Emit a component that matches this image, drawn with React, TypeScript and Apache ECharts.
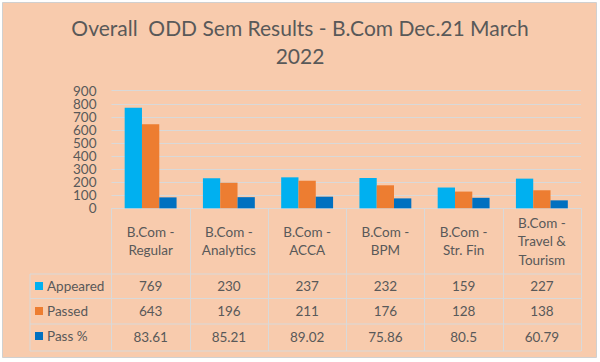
import React, { useEffect, useRef } from "react";
import * as echarts from "echarts";

const categories = [
  "B.Com -\nRegular",
  "B.Com -\nAnalytics",
  "B.Com -\nACCA",
  "B.Com -\nBPM",
  "B.Com -\nStr. Fin",
  "B.Com -\nTravel &\nTourism",
];
const appeared = [769, 230, 237, 232, 159, 227];
const passed = [643, 196, 211, 176, 128, 138];
const passPct = [83.61, 85.21, 89.02, 75.86, 80.5, 60.79];
const seriesNames = ["Appeared", "Passed", "Pass %"];
const titleText = "Overall  ODD Sem Results - B.Com Dec.21 March\n2022";
const yMin = 0;
const yMax = 900;
const yStep = 100;

const FONT = "Lato";
const TXT = "#595959";
const LINE = "#D9D9D9";
const PEACH = "#F8CBAD";

export default function App() {
  const ref = useRef<HTMLDivElement>(null);
  useEffect(() => {
    if (!ref.current) return;
    const chart = echarts.init(ref.current, undefined, { renderer: "svg" });
    const gridTop = 90.7;
    const gridBottomY = 208.3;
    const rowCenters = [286, 311, 336.5];
    const tableBottom = 351;
    const rowLines = [274, 298.5, 324, tableBottom];
    const tableLeft = 30;
    const tableRight = 581;

    const rowAxis = (vals: number[], center: number) => ({
      type: "category",
      gridIndex: 0,
      position: "bottom",
      data: vals.map((v) => String(v)),
      axisLine: { show: false },
      axisTick: { show: false },
      splitLine: { show: false },
      axisLabel: {
        interval: 0,
        margin: center - gridBottomY,
        verticalAlign: "middle",
        color: TXT,
        fontFamily: FONT,
        fontSize: 13.5,
      },
    });

    const yLabelBase = {
      color: TXT,
      fontFamily: FONT,
      fontSize: 13.5,
      margin: 15,
    };

    chart.setOption({
      animation: false,
      backgroundColor: "#ffffff",
      textStyle: { fontFamily: FONT },
      title: {
        text: titleText,
        left: "center",
        top: 13,
        padding: 0,
        textStyle: {
          color: TXT,
          fontFamily: FONT,
          fontSize: 21,
          fontWeight: "normal",
          lineHeight: 28,
        },
      },
      legend: {
        orient: "vertical",
        left: 35,
        top: rowCenters[0] - 8,
        padding: 0,
        itemGap: 9,
        itemWidth: 8,
        itemHeight: 8,
        icon: "rect",
        data: seriesNames,
        textStyle: { color: TXT, fontFamily: FONT, fontSize: 13.5, lineHeight: 16, padding: [0, 0, 0, -1] },
      },
      grid: {
        left: 111.5,
        right: 600 - tableRight,
        top: gridTop,
        bottom: 362 - gridBottomY,
      },
      xAxis: [
        {
          type: "category",
          data: categories,
          position: "bottom",
          axisLine: { show: true, lineStyle: { color: LINE, width: 1 } },
          axisTick: { show: true, length: tableBottom - gridBottomY, lineStyle: { color: LINE, width: 1 } },
          axisLabel: {
            interval: 0,
            margin: 241 - gridBottomY,
            verticalAlign: "middle",
            color: TXT,
            fontFamily: FONT,
            fontSize: 13.5,
            lineHeight: 18.5,
          },
        },
        rowAxis(appeared, rowCenters[0]),
        rowAxis(passed, rowCenters[1]),
        rowAxis(passPct, rowCenters[2]),
      ],
      yAxis: [
        {
          type: "value",
          min: yMin,
          max: yMax,
          interval: yStep,
          position: "left",
          axisLine: { show: false },
          axisTick: { show: false },
          splitLine: { lineStyle: { color: LINE, width: 1 } },
          axisLabel: {
            ...yLabelBase,
            formatter: (v: number) => (v === yMin || v === yMax ? "" : String(v)),
          },
        },
        {
          type: "value",
          min: yMin,
          max: yMax,
          interval: yStep,
          position: "left",
          offset: 0,
          axisLine: { show: false },
          axisTick: { show: false },
          splitLine: { show: false },
          axisLabel: {
            ...yLabelBase,
            showMinLabel: true,
            showMaxLabel: true,
            formatter: (v: number) => (v === yMin || v === yMax ? String(v) : ""),
          },
        },
      ],
      graphic: [
        {
          type: "rect",
          z: -10,
          shape: { x: 2.5, y: 2.5, width: 594, height: 355 },
          style: { fill: PEACH, stroke: "#D0D0D0", lineWidth: 1 },
        },
        ...rowLines.map((y) => ({
          type: "line",
          z: 1,
          shape: { x1: tableLeft, y1: y, x2: tableRight, y2: y },
          style: { stroke: LINE, lineWidth: 1 },
        })),
        {
          type: "line",
          z: 1,
          shape: { x1: tableLeft, y1: rowLines[0], x2: tableLeft, y2: tableBottom },
          style: { stroke: LINE, lineWidth: 1 },
        },
      ],
      series: [
        { name: seriesNames[0], type: "bar", data: appeared, barWidth: 17.3, barGap: "0%", itemStyle: { color: "#00B0F0" } },
        { name: seriesNames[1], type: "bar", data: passed, barWidth: 17.3, barGap: "0%", itemStyle: { color: "#ED7D31" } },
        { name: seriesNames[2], type: "bar", data: passPct, barWidth: 17.3, barGap: "0%", itemStyle: { color: "#0070C0" } },
      ],
    });
    return () => chart.dispose();
  }, []);
  return (
    <div style={{ position: "fixed", left: 0, top: 0, width: 600, height: 362 }}>
      <div ref={ref} style={{ width: 600, height: 362 }} />
    </div>
  );
}
